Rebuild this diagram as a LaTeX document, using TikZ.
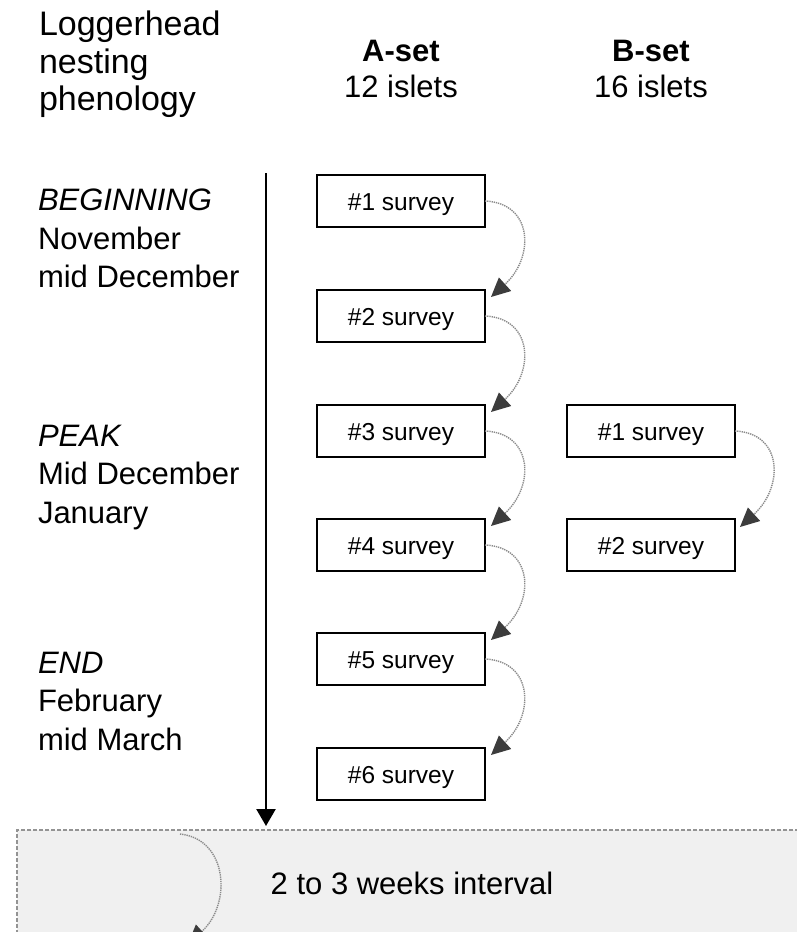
\documentclass[tikz,border=0pt]{standalone}
\usepackage{fontspec}
\setmainfont{Liberation Sans}
\usetikzlibrary{calc,arrows.meta}

\definecolor{legendgray}{HTML}{F0F0F0}
\definecolor{dashgray}{HTML}{939393}
\definecolor{dotgray}{HTML}{8A8A8A}
\definecolor{tipgray}{HTML}{3C3C3C}

\tikzset{
  survey/.style={draw, line width=2pt, minimum width=168pt, minimum height=52pt,
    text height=18pt, text depth=0pt, font=\fontsize{24.5}{29}\selectfont},
  phase_txt/.style={anchor=north west, align=left, font=\fontsize{31}{38.5}\selectfont},
  set_head/.style={anchor=north, align=center, font=\fontsize{31}{36}\selectfont},
  interval/.style={draw=dotgray, line width=1.4pt, dash pattern=on 1.3pt off 0.9pt,
    -{Triangle[length=19pt,width=18pt,color=tipgray]}},
}

\begin{document}
\begin{tikzpicture}[x=1pt, y=-1pt, inner sep=0pt, outer sep=0pt]
    \clip (0,0) rectangle (797,932);

    % headings
    \node[phase_txt, font=\fontsize{34}{37.5}\selectfont] (pheno_title) at (39,11)
    {Loggerhead\\nesting\\phenology};
    \node[set_head] (a_head) at (401,40) {\textbf{A-set}\\12 islets};
    \node[set_head] (b_head) at (651,40) {\textbf{B-set}\\16 islets};

    % phases of the season
    \node[phase_txt] (beginning) at (38,189) {\textit{BEGINNING}\\November\\mid December};
    \node[phase_txt] (peak) at (38,425) {\textit{PEAK}\\Mid December\\January};
    \node[phase_txt] (end_phase) at (38,652) {\textit{END}\\February\\mid March};

    % time axis
    \coordinate (axis_top) at (266,173);
    \coordinate (axis_end) at (266,826);
    \draw[line width=2.5pt, -{Triangle[length=17pt,width=19pt]}] (axis_top) -- (axis_end);

    % legend
    \node[draw=dashgray, fill=legendgray, line width=1.3pt, dash pattern=on 4pt off 2pt,
      anchor=north west, minimum width=800pt, minimum height=130pt] (legend_box) at (17,830) {};
    \node[font=\fontsize{31}{36}\selectfont] (legend_txt) at (412,883) {2 to 3 weeks interval};
    \coordinate (legend_from) at (180,834);
    \coordinate (legend_to) at (188,944);
    \draw[interval] (legend_from) .. controls +(48,5) and +(44,-40) .. (legend_to);

    % A-set surveys
    \foreach \i/\y in {1/201,2/316,3/431,4/545,5/659,6/774}
        \node[survey] (a_s\i) at (401,\y) {\#\i\ survey};
    \foreach \i/\j in {1/2,2/3,3/4,4/5,5/6}
        \draw[interval] (a_s\i.east) .. controls +(48,2) and +(44,-40) .. ($(a_s\j.north east)+(6,7)$);

    % B-set surveys
    \foreach \i/\y in {1/431,2/545}
        \node[survey] (b_s\i) at (651,\y) {\#\i\ survey};
    \draw[interval] (b_s1.east) .. controls +(48,2) and +(44,-40) .. ($(b_s2.north east)+(5,8)$);

\end{tikzpicture}
\end{document}
